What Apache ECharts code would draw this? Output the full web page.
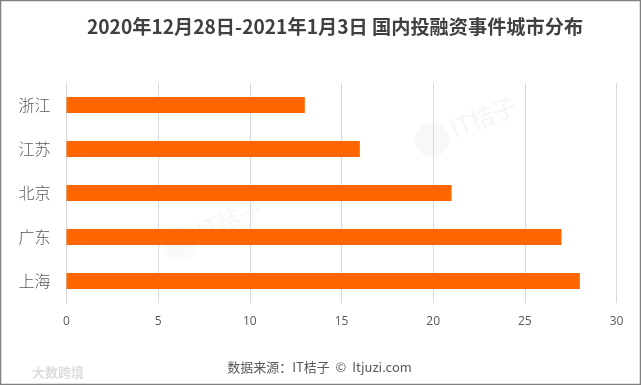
<!DOCTYPE html>
<html><head><meta charset="utf-8">
<style>html,body{margin:0;padding:0;background:#fff}#c{width:641px;height:385px}</style>
<script src="https://cdn.jsdelivr.net/npm/echarts@6/dist/echarts.min.js"></script>
</head><body><div id="c"></div>
<script>
const titleText = '2020年12月28日-2021年1月3日 国内投融资事件城市分布';
const sourceText = '数据来源\uFF1AIT桔子  ©  Itjuzi.com';
const categories = ['上海','广东','北京','江苏','浙江'];
const values = [28,27,21,16,13];
const cjk = '"Noto Sans CJK SC","Open Sans",sans-serif';
const chart = echarts.init(document.getElementById('c'),null,{renderer:'canvas'});
chart.setOption({
  animation:false,
  backgroundColor:'#fff',
  title:{text:titleText,left:330,top:12,textAlign:'center',
    textStyle:{fontFamily:cjk,fontSize:19.2,fontWeight:'bold',color:'#404040'}},
  grid:{left:66.5,right:24.5,top:83,bottom:82,containLabel:false},
  xAxis:{type:'value',min:0,max:30,interval:5,
    axisLine:{show:false},axisTick:{show:false},
    axisLabel:{margin:13,fontFamily:'"Open Sans",sans-serif',fontSize:12,color:'#595959'},
    splitLine:{show:true,lineStyle:{color:'#d9d9d9',width:1}}},
  yAxis:{type:'category',data:categories,
    axisLine:{show:true,lineStyle:{color:'#d9d9d9',width:1}},axisTick:{show:false},
    axisLabel:{margin:16,fontFamily:cjk,fontSize:16,fontWeight:300,color:'#595959'}},
  series:[{type:'bar',data:values,barWidth:16,itemStyle:{color:'#ff6600'}}],
  graphic:[
    {type:'rect',z:-1,silent:true,shape:{x:0.5,y:0.5,width:640,height:384},style:{fill:'none',stroke:'#808080',lineWidth:1.5}},
    {type:'text',x:319.5,y:367,style:{text:sourceText,align:'center',verticalAlign:'middle',font:'13px '+cjk,fill:'#595959'}},
    {type:'text',x:32,y:372,style:{text:'大数跨境',align:'left',verticalAlign:'middle',font:'bold 13px '+cjk,fill:'#dcdcdc'}},
    {type:'circle',z:-1,shape:{cx:432,cy:140,r:17},style:{fill:'#f8f8f8'}},
    {type:'text',z:-1,x:451,y:130,rotation:0.38,style:{text:'IT桔子',verticalAlign:'middle',font:'24px '+cjk,fill:'#f5f5f5'}},
    {type:'circle',z:-1,shape:{cx:180,cy:243,r:17},style:{fill:'#fafafa'}},
    {type:'text',z:-1,x:198,y:232,rotation:0.38,style:{text:'IT桔子',verticalAlign:'middle',font:'24px '+cjk,fill:'#f7f7f7'}}
  ]
});
</script></body></html>
